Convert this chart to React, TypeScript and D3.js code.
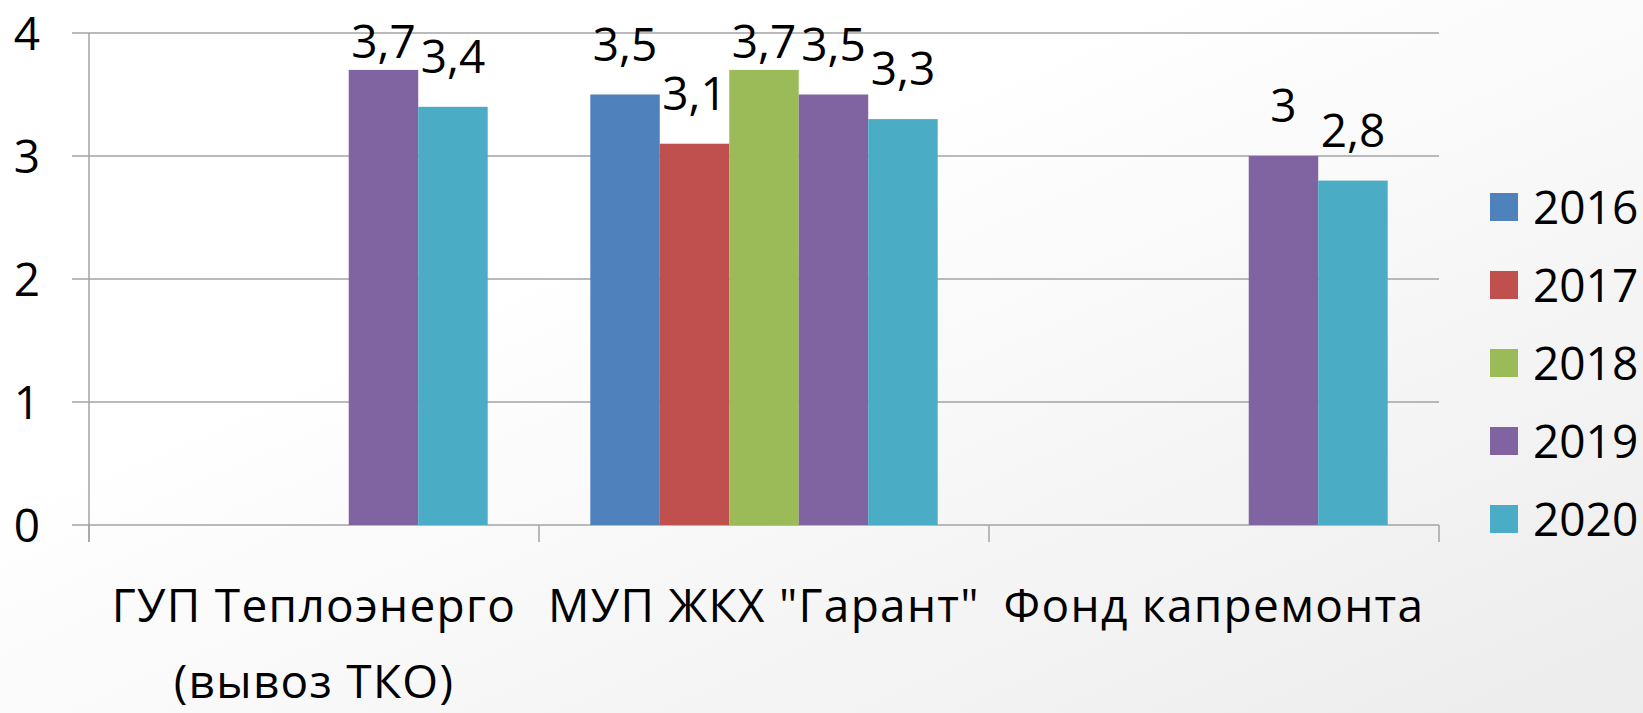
import React, { useEffect, useRef } from 'react';
import * as d3 from 'd3';

// Chart data
const categories = ['ГУП Теплоэнерго\n(вывоз ТКО)', 'МУП ЖКХ "Гарант"', 'Фонд капремонта'];
const years = ['2016', '2017', '2018', '2019', '2020'];
const values2016 = [null, 3.5, null];
const values2017 = [null, 3.1, null];
const values2018 = [null, 3.7, null];
const values2019 = [3.7, 3.5, 3];
const values2020 = [3.4, 3.3, 2.8];
const yTicks = [0, 1, 2, 3, 4];
const colors = ['#4F81BD', '#C0504D', '#9BBB59', '#8064A2', '#4BACC6'];

const seriesValues = [values2016, values2017, values2018, values2019, values2020];

export default function App() {
  const ref = useRef<SVGSVGElement>(null);

  useEffect(() => {
    const width = 1643;
    const height = 713;
    const margin = { top: 33, right: 204, bottom: 188, left: 89 };
    const font = "'Open Sans', 'Noto Sans', sans-serif";

    const svg = d3.select(ref.current);
    svg.selectAll('*').remove();

    // Faint grey background fading to the bottom right
    const defs = svg.append('defs');
    const grad = defs.append('linearGradient')
      .attr('id', 'bg')
      .attr('x1', '0').attr('y1', '0')
      .attr('x2', '1').attr('y2', '1');
    grad.append('stop').attr('offset', '0.35').attr('stop-color', '#ffffff');
    grad.append('stop').attr('offset', '1').attr('stop-color', '#ececec');
    svg.append('rect').attr('width', width).attr('height', height).attr('fill', 'url(#bg)');

    const x0 = d3.scaleBand()
      .domain(categories)
      .range([margin.left, width - margin.right])
      .padding(0);

    // Excel gap width ~150% -> bars take 5 of 6.5 slots
    const gap = x0.bandwidth() * 0.114;
    const x1 = d3.scaleBand()
      .domain(years)
      .range([gap, x0.bandwidth() - gap])
      .padding(0);

    const y = d3.scaleLinear()
      .domain([0, 4])
      .range([height - margin.bottom, margin.top]);

    const color = d3.scaleOrdinal<string, string>().domain(years).range(colors);

    // Gridlines + y ticks
    svg.append('g')
      .selectAll('line')
      .data(yTicks)
      .join('line')
        .attr('x1', margin.left - 17)
        .attr('x2', width - margin.right)
        .attr('y1', d => y(d))
        .attr('y2', d => y(d))
        .attr('stroke', '#a3a3a3')
        .attr('stroke-width', 1.5);

    svg.append('g')
      .selectAll('text')
      .data(yTicks)
      .join('text')
        .attr('x', 40)
        .attr('y', d => y(d))
        .attr('dy', '0.36em')
        .attr('text-anchor', 'end')
        .attr('font-family', font)
        .attr('font-size', 46)
        .attr('fill', '#000')
        .text(d => d);

    // Axes lines
    svg.append('line')
      .attr('x1', margin.left).attr('x2', margin.left)
      .attr('y1', y(4)).attr('y2', y(0) + 17)
      .attr('stroke', '#a3a3a3').attr('stroke-width', 1.5);

    const catTicks = categories.map(c => x0(c) as number).concat([width - margin.right]);
    svg.append('g')
      .selectAll('line')
      .data(catTicks)
      .join('line')
        .attr('x1', d => d).attr('x2', d => d)
        .attr('y1', y(0)).attr('y2', y(0) + 17)
        .attr('stroke', '#a3a3a3').attr('stroke-width', 1.5);

    // Bars
    const rows = categories.map((c, i) => ({
      cat: c,
      items: years
        .map((yr, s) => ({ year: yr, value: seriesValues[s][i] }))
        .filter(d => d.value != null) as { year: string; value: number }[],
    }));

    rows.forEach(row => {
      const g = svg.append('g').attr('transform', `translate(${x0(row.cat)},0)`);
      g.selectAll('rect')
        .data(row.items)
        .join('rect')
          .attr('x', d => x1(d.year) as number)
          .attr('y', d => y(d.value))
          .attr('width', x1.bandwidth())
          .attr('height', d => y(0) - y(d.value))
          .attr('fill', d => color(d.year));

      // value labels; Excel keeps them inside the chart area
      g.selectAll('text')
        .data(row.items)
        .join('text')
          .attr('x', d => (x1(d.year) as number) + x1.bandwidth() / 2)
          .attr('y', d => Math.max(y(d.value) - 34, 58))
          .attr('text-anchor', 'middle')
          .attr('font-family', font)
          .attr('font-size', 46)
          .attr('fill', '#000')
          .text(d => String(d.value).replace('.', ','));
    });

    // Category labels
    categories.forEach(c => {
      const lines = c.split('\n');
      const t = svg.append('text')
        .attr('text-anchor', 'middle')
        .attr('font-family', font)
        .attr('font-size', 46)
        .attr('letter-spacing', 1.3)
        .attr('fill', '#000');
      lines.forEach((ln, i) => {
        t.append('tspan')
          .attr('x', (x0(c) as number) + x0.bandwidth() / 2)
          .attr('y', 622 + i * 76)
          .text(ln);
      });
    });

    // Legend
    const legend = svg.append('g');
    years.forEach((yr, i) => {
      const cy = 207 + i * 78;
      legend.append('rect')
        .attr('x', 1490).attr('y', cy - 14)
        .attr('width', 28).attr('height', 28)
        .attr('fill', color(yr));
      legend.append('text')
        .attr('x', 1533).attr('y', cy)
        .attr('dy', '0.36em')
        .attr('font-family', font)
        .attr('font-size', 46)
        .attr('fill', '#000')
        .text(yr);
    });
  }, []);

  return (
    <svg ref={ref} width={1643} height={713}
      style={{ position: 'absolute', left: 0, top: 0, display: 'block' }} />
  );
}
